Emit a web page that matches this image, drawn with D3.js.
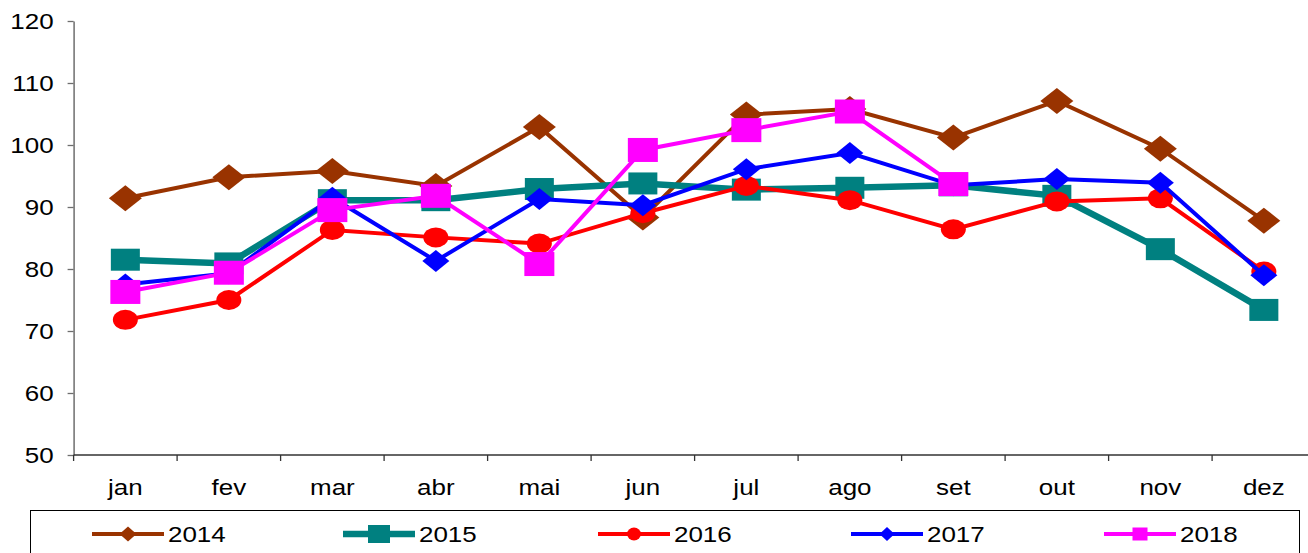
<!DOCTYPE html>
<html>
<head>
<meta charset="utf-8">
<script src="https://cdn.jsdelivr.net/npm/d3@7"></script>
<style>
  html, body { margin: 0; padding: 0; background: #fff; }
  svg { display: block; }
  text { font-family: "Liberation Sans", Arial, sans-serif; fill: #000; }
</style>
</head>
<body>
<svg id="chart" width="1308" height="553"></svg>
<script>
// Monthly index values per year
const months = ["jan","fev","mar","abr","mai","jun","jul","ago","set","out","nov","dez"];
const years = ["2014","2015","2016","2017","2018"];
const v2014 = [91.4, 94.8, 95.8, 93.4, 102.9, 88.3, 104.9, 105.8, 101.2, 107.1, 99.4, 87.8];
const v2015 = [81.5, 80.9, 91.1, 91.1, 92.9, 93.8, 92.8, 93.1, 93.5, 91.8, 83.2, 73.4];
const v2016 = [71.8, 75.0, 86.3, 85.1, 84.1, 89.0, 93.4, 91.1, 86.4, 90.9, 91.4, 79.6];
const v2017 = [77.5, 79.3, 91.5, 81.3, 91.3, 90.3, 96.1, 98.7, 93.5, 94.5, 93.9, 79.0];
const v2018 = [76.3, 79.4, 89.5, 91.8, 80.8, 99.2, 102.4, 105.4, 93.7];
const yTicks = [50, 60, 70, 80, 90, 100, 110, 120];

const seriesValues = [v2014, v2015, v2016, v2017, v2018];
const colors = ["#993300", "#008080", "#ff0000", "#0000ff", "#ff00ff"];
const lineWidths = [4, 6.5, 4, 4, 4];
// marker kind, width, height (plot) and (legend)
const markers = [
  {kind: "diamond", w: 33, h: 26, lw: 17, lh: 15},
  {kind: "square",  w: 29, h: 22, lw: 22, lh: 18},
  {kind: "circle",  w: 25, h: 20, lw: 14, lh: 13},
  {kind: "diamond", w: 27, h: 22, lw: 15, lh: 14},
  {kind: "square",  w: 30, h: 24, lw: 15, lh: 13}
];

const svg = d3.select("#chart");
const stretch = 1.18; // horizontal text stretch

const plotLeft = 73.6, plotTop = 21, plotBottom = 455, band = 103.5;
const x = d3.scaleBand().domain(months).range([plotLeft, plotLeft + band * 12]);
const y = d3.scaleLinear().domain([50, 120]).range([plotBottom, plotTop]);
const cx = m => x(m) + x.bandwidth() / 2;

// y axis
const yAxis = svg.append("g")
  .attr("transform", `translate(${plotLeft},0)`)
  .call(d3.axisLeft(y).tickValues(yTicks).tickSize(6).tickPadding(14).tickSizeOuter(0));
yAxis.select(".domain").attr("stroke", "#6e6e6e").attr("stroke-width", 1.5);
yAxis.selectAll(".tick line").attr("stroke", "#6e6e6e").attr("stroke-width", 1.3);
yAxis.selectAll(".tick text")
  .attr("font-size", 22)
  .attr("font-family", "Liberation Sans, Arial, sans-serif")
  .attr("fill", "#000")
  .attr("x", -20 / stretch)
  .attr("transform", `scale(${stretch},1)`);

// x axis: line, boundary ticks, centred labels
const xg = svg.append("g");
xg.append("line")
  .attr("x1", plotLeft).attr("x2", plotLeft + band * 12)
  .attr("y1", plotBottom).attr("y2", plotBottom)
  .attr("stroke", "#333").attr("stroke-width", 1.5);
xg.selectAll("line.tk").data(months).enter().append("line")
  .attr("class", "tk")
  .attr("x1", d => x(d)).attr("x2", d => x(d))
  .attr("y1", plotBottom).attr("y2", plotBottom + 6)
  .attr("stroke", "#333").attr("stroke-width", 1.3);
xg.selectAll("text").data(months).enter().append("text")
  .attr("transform", d => `translate(${cx(d)},${plotBottom + 40}) scale(${stretch},1)`)
  .attr("text-anchor", "middle")
  .attr("font-size", 22)
  .text(d => d);

function drawMarker(g, kind, w, h, color) {
  if (kind === "diamond") {
    g.append("path")
      .attr("d", `M0,${-h/2}L${w/2},0L0,${h/2}L${-w/2},0Z`)
      .attr("fill", color);
  } else if (kind === "square") {
    g.append("rect")
      .attr("x", -w/2).attr("y", -h/2).attr("width", w).attr("height", h)
      .attr("fill", color);
  } else {
    g.append("ellipse").attr("rx", w/2).attr("ry", h/2).attr("fill", color);
  }
}

const line = d3.line().x(d => cx(d.m)).y(d => y(d.v));

seriesValues.forEach((vals, i) => {
  const pts = vals.map((v, j) => ({m: months[j], v}));
  const g = svg.append("g");
  g.append("path")
    .datum(pts)
    .attr("d", line)
    .attr("fill", "none")
    .attr("stroke", colors[i])
    .attr("stroke-width", lineWidths[i])
    .attr("stroke-linejoin", "miter");
  pts.forEach(p => {
    const mg = g.append("g").attr("transform", `translate(${cx(p.m)},${y(p.v)})`);
    drawMarker(mg, markers[i].kind, markers[i].w, markers[i].h, colors[i]);
  });
});

// legend
const lg = svg.append("g");
lg.append("rect")
  .attr("x", 30.5).attr("y", 510.5).attr("width", 1269).attr("height", 60)
  .attr("fill", "#fff").attr("stroke", "#000").attr("stroke-width", 1);
const legendStart = [92, 343, 598, 851, 1104];
const legendLen = 72, legendY = 534;
years.forEach((yr, i) => {
  const x0 = legendStart[i];
  lg.append("line")
    .attr("x1", x0).attr("x2", x0 + legendLen)
    .attr("y1", legendY).attr("y2", legendY)
    .attr("stroke", colors[i]).attr("stroke-width", lineWidths[i]);
  const mg = lg.append("g").attr("transform", `translate(${x0 + legendLen / 2},${legendY})`);
  drawMarker(mg, markers[i].kind, markers[i].lw, markers[i].lh, colors[i]);
  lg.append("text")
    .attr("transform", `translate(${x0 + legendLen + 4},${legendY + 8}) scale(${stretch},1)`)
    .attr("font-size", 22)
    .text(yr);
});
</script>
</body>
</html>
